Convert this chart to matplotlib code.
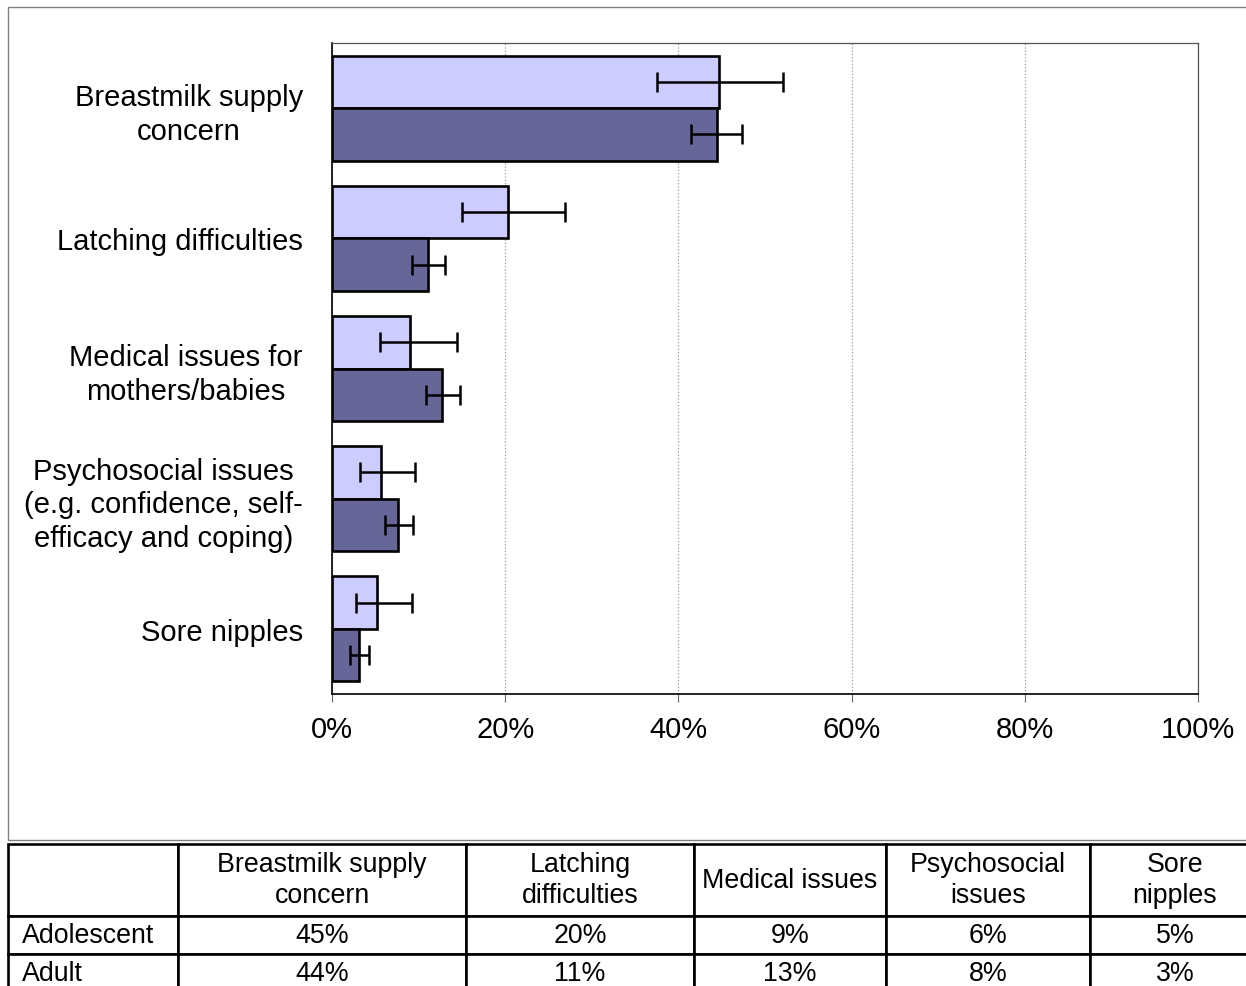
import matplotlib.pyplot as plt
import numpy as np
from matplotlib.patches import Rectangle

plt.rcParams['font.family'] = ['Liberation Sans', 'DejaVu Sans']

# Data (percent)
categories = ['Breastmilk supply\nconcern', 'Latching difficulties',
              'Medical issues for\nmothers/babies',
              'Psychosocial issues\n(e.g. confidence, self-\nefficacy and coping)',
              'Sore nipples']
adolescent = [44.7, 20.3, 9.0, 5.7, 5.2]
adolescent_lo = [37.5, 15.0, 5.5, 3.2, 2.8]
adolescent_hi = [52.1, 26.9, 14.4, 9.6, 9.2]
adult = [44.5, 11.1, 12.7, 7.6, 3.1]
adult_lo = [41.5, 9.2, 10.9, 6.1, 2.1]
adult_hi = [47.3, 13.0, 14.8, 9.4, 4.3]

x_ticks = [0, 20, 40, 60, 80, 100]
x_labels = ['0%', '20%', '40%', '60%', '80%', '100%']

table_cols = ['', 'Breastmilk supply\nconcern', 'Latching\ndifficulties',
              'Medical issues', 'Psychosocial\nissues', 'Sore\nnipples']
table_rows = ['Adolescent', 'Adult']
table_adolescent = ['45%', '20%', '9%', '6%', '5%']
table_adult = ['44%', '11%', '13%', '8%', '3%']

W, H = 1246, 987
fig = plt.figure(figsize=(W / 100, H / 100), dpi=100)

# outer chart frame (runs off the right edge)
fig.patches.append(Rectangle((8 / W, 1 - 841 / H), 1270 / W, 833 / H,
                             transform=fig.transFigure, fill=False,
                             edgecolor='#808080', linewidth=1))

ax = fig.add_axes([332 / W, 1 - 695 / H, 866 / W, 651 / H])

y = np.arange(len(categories))
h = 0.403
a = np.array(adolescent)
b = np.array(adult)

ax.barh(y - h / 2, a, height=h, color='#CCCCFF', edgecolor='black', linewidth=1.9, zorder=2)
ax.barh(y + h / 2, b, height=h, color='#666699', edgecolor='black', linewidth=1.9, zorder=2)

ax.errorbar(a, y - h / 2, xerr=[a - np.array(adolescent_lo), np.array(adolescent_hi) - a],
            fmt='none', ecolor='black', elinewidth=1.8, capsize=7.5, capthick=1.8, zorder=3)
ax.errorbar(b, y + h / 2, xerr=[b - np.array(adult_lo), np.array(adult_hi) - b],
            fmt='none', ecolor='black', elinewidth=1.8, capsize=7.5, capthick=1.8, zorder=3)

ax.set_xlim(0, 100)
ax.set_ylim(len(categories) - 0.5, -0.5)
ax.set_xticks(x_ticks)
ax.set_xticklabels(x_labels)
ax.set_yticks(y)
ax.set_yticklabels(categories, multialignment='center', linespacing=1.25)

ax.xaxis.grid(True, linestyle=':', color='#999999', linewidth=0.9)
ax.set_axisbelow(True)

for s in ['left', 'bottom']:
    ax.spines[s].set_color('black')
    ax.spines[s].set_linewidth(1.2)
for s in ['top', 'right']:
    ax.spines[s].set_color('#555555')
    ax.spines[s].set_linewidth(0.9)

ax.tick_params(axis='x', length=5.8, width=0.8, color='#666666', labelsize=21, pad=9)
ax.tick_params(axis='y', length=0, labelsize=21, pad=21)

# data table under the chart
tax = fig.add_axes([0, 0, 1, 1])
tax.axis('off')
col_px = [170, 288, 228, 192, 204, 170]
total = sum(col_px)
cell_text = [table_cols,
             [table_rows[0]] + table_adolescent,
             [table_rows[1]] + table_adult]
tbl = tax.table(cellText=cell_text, cellLoc='center',
                colWidths=[c / total for c in col_px],
                bbox=[8 / W, (987 - 993) / H, total / W, 148 / H])
tbl.auto_set_font_size(False)
tbl.set_fontsize(19.3)
for (r, c), cell in tbl.get_celld().items():
    cell.set_height(72 if r == 0 else 38)
    cell.set_edgecolor('black')
    cell.set_linewidth(1.9)
    cell.get_text().set_linespacing(1.25)
    if c == 0 and r > 0:
        cell._loc = 'left'
        cell.get_text().set_horizontalalignment('left')
        cell.PAD = 14 / 170

fig.savefig('out.png', dpi=100)
